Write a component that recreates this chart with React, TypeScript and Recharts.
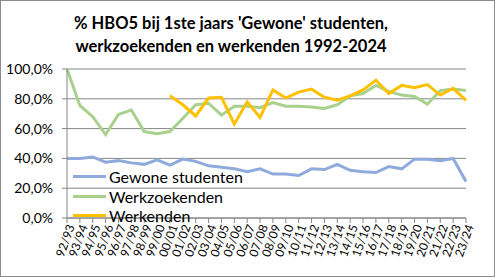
import {
  LineChart,
  Line,
  XAxis,
  YAxis,
  CartesianGrid,
} from "recharts";

const years = [
  "92/93", "93/94", "94/95", "95/96", "96/97", "97/98", "98/99", "99/00",
  "00/01", "01/02", "02/03", "03/04", "04/05", "05/06", "06/07", "07/08",
  "08/09", "09/10", "10/11", "11/12", "12/13", "13/14", "14/15", "15/16",
  "16/17", "17/18", "18/19", "19/20", "20/21", "21/22", "22/23", "23/24",
];

const gewone = [
  40, 40, 41, 37.5, 38.5, 37, 36, 39, 35.5, 39.5, 38, 35, 34, 33, 31, 33,
  29.5, 29.5, 28.5, 33, 32.5, 36, 32, 31, 30.5, 34.5, 33, 39.5, 39.5, 38.5, 40, 24.5,
];

const werkzoekenden = [
  100, 75.5, 68, 56, 69.5, 72.5, 58, 56.5, 58, 67, 76, 77, 69, 75, 75, 74,
  77.5, 75, 75, 74.5, 73.5, 76, 82, 83.5, 89, 85, 82.5, 81.5, 76.5, 85.5, 86.5, 85.5,
];

const werkenden: (number | null)[] = [
  null, null, null, null, null, null, null, null,
  82, 76, 68.5, 80.5, 81, 63, 78, 67.5, 86, 80.5, 84.5, 86.5, 81, 79, 82, 86,
  92.5, 83.5, 89, 87.5, 89.5, 82.5, 87, 79,
];

const yTicks = [0, 20, 40, 60, 80, 100];

const series = [
  { key: "gewone", name: "Gewone studenten", color: "#8faadc" },
  { key: "werkzoekenden", name: "Werkzoekenden", color: "#a9d18e" },
  { key: "werkenden", name: "Werkenden", color: "#ffc000" },
];

const data = years.map((year, i) => ({
  year,
  gewone: gewone[i],
  werkzoekenden: werkzoekenden[i],
  werkenden: werkenden[i],
}));

const font = "Lato, 'Open Sans', sans-serif";
const gridColor = "#868686";

function YearTick({ x, y, payload }: any) {
  return (
    <g transform={`translate(${x + 4},${y})`}>
      <text
        textAnchor="end"
        transform="rotate(-70)"
        dy="0.35em"
        fontSize={12}
        fontFamily={font}
        fill="#000"
      >
        {payload.value}
      </text>
    </g>
  );
}

// legend sits inside the plot area, over the lower left corner
function LegendBox() {
  return (
    <div
      style={{
        position: "absolute",
        left: 72,
        top: 166,
        fontFamily: font,
        fontSize: 16,
        color: "#000",
      }}
    >
      {series.map((s) => (
        <div
          key={s.key}
          style={{ display: "flex", alignItems: "center", height: 19.5 }}
        >
          <span
            style={{
              display: "inline-block",
              width: 33,
              height: 3,
              background: s.color,
              marginRight: 3,
            }}
          />
          <span>{s.name}</span>
        </div>
      ))}
    </div>
  );
}

export default function App() {
  return (
    <div
      style={{
        position: "absolute",
        left: 0,
        top: 0,
        width: 495,
        height: 277,
        boxSizing: "border-box",
        border: "1px solid #8c8c8c",
        background: "#fff",
      }}
    >
      <div
        style={{
          position: "absolute",
          left: 0,
          top: 11,
          width: 460,
          textAlign: "center",
          fontFamily: font,
          fontWeight: 700,
          fontSize: 16.5,
          lineHeight: "23px",
          color: "#000",
        }}
      >
        % HBO5 bij 1ste jaars 'Gewone' studenten,
        <br />
        werkzoekenden en werkenden 1992-2024
      </div>
      <LineChart
        width={493}
        height={275}
        data={data}
        margin={{ top: 68, right: 28, left: 7, bottom: 0 }}
        style={{ position: "absolute", left: 0, top: 0 }}
      >
        <CartesianGrid vertical={false} stroke={gridColor} strokeWidth={1} />
        <XAxis
          dataKey="year"
          interval={0}
          height={58}
          tickSize={5}
          tickMargin={2}
          stroke={gridColor}
          tick={<YearTick />}
        />
        <YAxis
          width={59}
          domain={[0, 100]}
          ticks={yTicks}
          tickSize={5}
          tickMargin={9}
          stroke={gridColor}
          tickFormatter={(v: number) => `${v.toFixed(1).replace(".", ",")}%`}
          tick={{ fontSize: 14, fontFamily: font, fill: "#000" }}
        />
        {series.map((s) => (
          <Line
            key={s.key}
            dataKey={s.key}
            name={s.name}
            type="linear"
            stroke={s.color}
            strokeWidth={3}
            dot={false}
            isAnimationActive={false}
          />
        ))}
      </LineChart>
      <LegendBox />
    </div>
  );
}
